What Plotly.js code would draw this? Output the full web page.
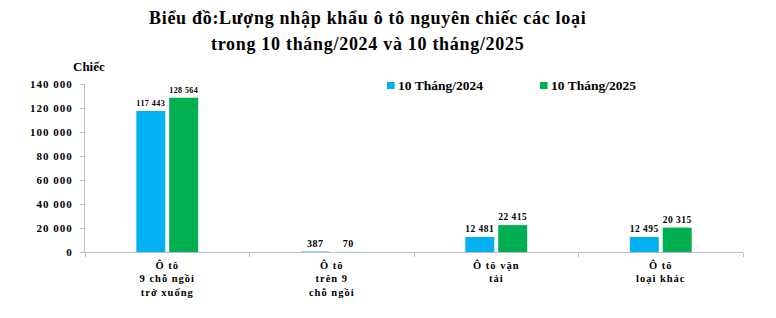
<!DOCTYPE html>
<html><head><meta charset="utf-8">
<script src="https://cdn.plot.ly/plotly-3.0.1.min.js"></script>
<style>
html,body{margin:0;padding:0;background:#fff}
#c{width:776px;height:318px}
text{letter-spacing:1px}
text.bartext{letter-spacing:0.5px}
text.annotation-text{letter-spacing:0}
</style>
</head><body><div id="c"></div>
<script>
const categories = ["Ô tô<br>9 chỗ ngồi<br>trở xuống", "Ô tô<br>trên 9<br>chỗ ngồi", "Ô tô vận<br>tải", "Ô tô<br>loại khác"];
const series2024 = [117443, 387, 12481, 12495];
const series2025 = [128564, 70, 22415, 20315];
const seriesNames = ["10 Tháng/2024", "10 Tháng/2025"];
const seriesColors = ["#00B0F0", "#00B050"];
const yTicks = [0, 20000, 40000, 60000, 80000, 100000, 120000, 140000];
const titleLines = ["Biểu đồ:Lượng nhập khẩu ô tô nguyên chiếc các loại", "trong 10 tháng/2024 và 10 tháng/2025"];
const unitLabel = "Chiếc";

const F = "Liberation Serif";
const mk = (name, y, color) => ({
  type: "bar", name: name, x: categories, y: y,
  marker: {color: color},
  text: y, texttemplate: "%{y:,}", textposition: "outside",
  textfont: {family: F, size: 10, color: "#000", weight: 700},
  cliponaxis: false, hoverinfo: "skip", showlegend: false
});
const data = [mk(seriesNames[0], series2024, seriesColors[0]), mk(seriesNames[1], series2025, seriesColors[1])];

const legSq = [[0.459, 0.4705], [0.6915, 0.703]];
const legTx = [0.4725, 0.7045];
const titleY = [1.393, 1.238];

const layout = {
  width: 776, height: 318,
  margin: {l: 85, r: 33, t: 84, b: 66},
  separators: ". ",
  paper_bgcolor: "#fff", plot_bgcolor: "#fff",
  barmode: "group", bargap: 0.6, bargroupgap: 0.12,
  xaxis: {showgrid: false, showline: true, linecolor: "#bfbfbf", linewidth: 1,
    ticks: "outside", tickson: "boundaries", ticklen: 4, tickcolor: "#bfbfbf", ticklabelstandoff: 3,
    tickfont: {family: F, size: 10.5, color: "#000", weight: 700}, fixedrange: true},
  yaxis: {range: [0, 140000], tickvals: yTicks, tickformat: ",d", showgrid: false, zeroline: false,
    showline: true, linecolor: "#bfbfbf", linewidth: 1, ticks: "outside", ticklen: 4, tickcolor: "#bfbfbf",
    ticklabelstandoff: 5,
    tickfont: {family: F, size: 11, color: "#000", weight: 700}, fixedrange: true},
  shapes: seriesColors.map((c, i) => ({type: "rect", xref: "paper", yref: "paper",
    x0: legSq[i][0], x1: legSq[i][1], y0: 0.970, y1: 1.012, fillcolor: c, line: {width: 0}})),
  annotations: [
    ...titleLines.map((t, i) => ({text: "<b><span style='letter-spacing:0.7px'>" + t + "</span></b>",
      xref: "paper", yref: "paper", x: 0.430, y: titleY[i], xanchor: "center", yanchor: "middle",
      showarrow: false, font: {family: F, size: 18, color: "#000"}})),
    {text: "<b>" + unitLabel + "</b>", xref: "paper", yref: "paper", x: 0.006, y: 1.107, xanchor: "center", yanchor: "middle",
      showarrow: false, font: {family: F, size: 13, color: "#000"}},
    ...seriesNames.map((n, i) => ({
      text: "<b>" + n + "</b>",
      xref: "paper", yref: "paper", x: legTx[i], y: 0.991, xanchor: "left", yanchor: "middle",
      showarrow: false, font: {family: F, size: 13.5, color: "#000"}
    }))
  ]
};
Plotly.newPlot("c", data, layout, {displayModeBar: false, staticPlot: true});
</script></body></html>
